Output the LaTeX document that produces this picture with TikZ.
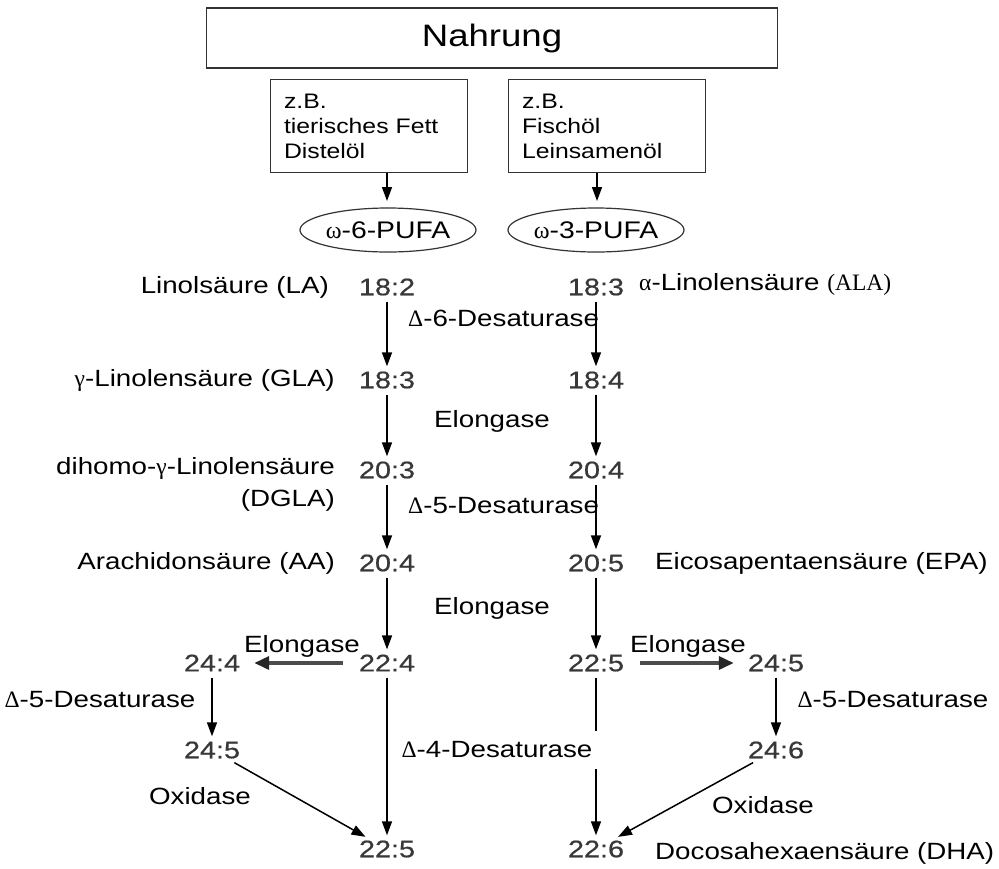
\documentclass[tikz,border=0pt]{standalone}
\usepackage{fontspec}
\setmainfont{Liberation Sans}[FakeStretch=1.18]
\newfontfamily\grk{Liberation Serif}
\newfontfamily\numfont{Liberation Sans}[FakeStretch=1.2, FakeBold=0.6]
\usetikzlibrary{arrows.meta,shapes.geometric}
\definecolor{numgray}{rgb}{0.22,0.22,0.22}
\begin{document}
\begin{tikzpicture}[x=1pt,y=-1pt,
  lbl/.style={font=\fontsize{23.5}{27}\selectfont, inner sep=1pt},
  num/.style={font=\numfont\fontsize{24}{26}\selectfont, text=numgray, inner sep=2pt},
  arr/.style={-{Triangle[length=14pt,width=10pt]}, line width=1.5pt, shorten <=4pt, shorten >=3pt},
  harr/.style={-{Triangle[length=15pt,width=13pt,color=black!85]}, line width=3.5pt, draw=gray!60!black, shorten <=14pt, shorten >=12pt},
  srcbox/.style={draw=black!80, line width=1.2pt, minimum width=197pt, minimum height=93pt, text width=170pt, align=left, font=\fontsize{21}{25}\selectfont, inner sep=0pt},
  pufa/.style={ellipse, draw=black!80, line width=1.2pt, minimum width=176pt, minimum height=44pt, font=\fontsize{24}{26}\selectfont, inner sep=0pt}
]
\useasboundingbox (0,0) rectangle (999,868);

% top boxes
\node[draw=black!80, line width=1.3pt, minimum width=571pt, minimum height=60pt, font=\fontsize{31}{34}\selectfont] (nahrung) at (492,38) {Nahrung};
\node[srcbox] (lbox) at (369,126) {z.B.\\tierisches Fett\\Distelöl};
\node[srcbox] (rbox) at (607,126) {z.B.\\Fischöl\\Leinsamenöl};
\node[pufa] (o6) at (388,230) {{\grk ω}-6-PUFA};
\node[pufa] (o3) at (596,230) {{\grk ω}-3-PUFA};
\coordinate (lb) at (387,172.5);
\coordinate (rb) at (597,172.5);
\draw[arr, shorten <=0pt] (lb) -- (387,204);
\draw[arr, shorten <=0pt] (rb) -- (597,204);

% numbers
\node[num] (n182) at (387,287) {18:2};
\node[num] (a183) at (596,287) {18:3};
\node[num] (n183) at (387,380) {18:3};
\node[num] (a184) at (596,380) {18:4};
\node[num] (n203) at (387,470) {20:3};
\node[num] (a204) at (596,470) {20:4};
\node[num] (n204) at (387,563) {20:4};
\node[num] (a205) at (596,563) {20:5};
\node[num] (n224) at (387,663) {22:4};
\node[num] (a225) at (596,663) {22:5};
\node[num] (n244) at (212,663) {24:4};
\node[num] (a245) at (776,663) {24:5};
\node[num] (n245) at (212,750) {24:5};
\node[num] (a246) at (776,750) {24:6};
\node[num] (n225) at (387,849) {22:5};
\node[num] (a226) at (596,849) {22:6};

% arrows
\draw[arr] (n182) -- (n183);
\draw[arr] (a183) -- (a184);
\draw[arr] (n183) -- (n203);
\draw[arr] (a184) -- (a204);
\draw[arr] (n203) -- (n204);
\draw[arr] (a204) -- (a205);
\draw[arr] (n204) -- (n224);
\draw[arr] (a205) -- (a225);
\draw[harr] (n224) -- (n244);
\draw[harr] (a225) -- (a245);
\draw[arr] (n244) -- (n245);
\draw[arr] (a245) -- (a246);
\draw[arr] (n224) -- (n225);
\draw[arr] (a225) -- (a226);
\draw[arr] (n245) -- (n225);
\draw[arr] (a246) -- (a226);

% labels
\node[lbl, anchor=east] (la) at (330,287) {Linolsäure (LA)};
\node[lbl, anchor=west] (ala) at (638,284) {{\grk α}-Linolensäure {\grk (ALA)}};
\node[lbl, anchor=west] (d6) at (407,318) {{\grk Δ}-6-Desaturase};
\node[lbl, anchor=east] (gla) at (336,380) {{\grk γ}-Linolensäure (GLA)};
\node[lbl] (el1) at (492,421) {Elongase};
\node[lbl, anchor=east] (dgla) at (336,468) {dihomo-{\grk γ}-Linolensäure};
\node[lbl, anchor=east] (dgla2) at (336,500) {(DGLA)};
\node[lbl, anchor=west] (d5) at (407,506) {{\grk Δ}-5-Desaturase};
\node[lbl, anchor=east] (aa) at (336,563) {Arachidonsäure (AA)};
\node[lbl, anchor=west] (epa) at (654,563) {Eicosapentaensäure (EPA)};
\node[lbl] (el2) at (492,608) {Elongase};
\node[lbl] (el3) at (302,646) {Elongase};
\node[lbl] (el4) at (688,646) {Elongase};
\node[lbl] (d5l) at (100,700) {{\grk Δ}-5-Desaturase};
\node[lbl] (d5r) at (893,700) {{\grk Δ}-5-Desaturase};
\node[lbl, fill=white, inner xsep=11pt, inner ysep=11pt] (d4) at (497,750) {{\grk Δ}-4-Desaturase};
\node[lbl] (ox1) at (200,796) {Oxidase};
\node[lbl] (ox2) at (763,805) {Oxidase};
\node[lbl, anchor=west] (dha) at (654,853) {Docosahexaensäure (DHA)};
\end{tikzpicture}
\end{document}
